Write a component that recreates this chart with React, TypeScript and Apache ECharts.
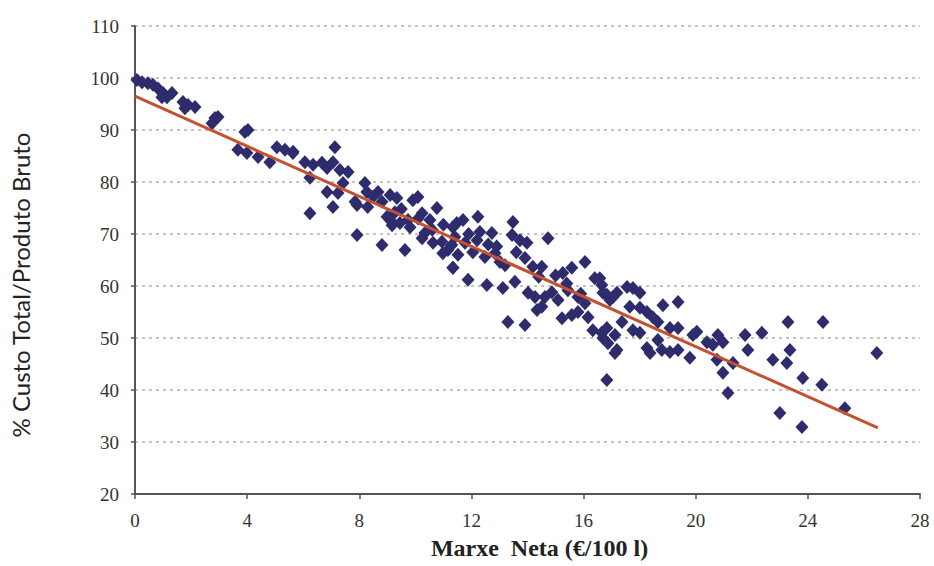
import React, { useEffect, useRef } from "react";
import * as echarts from "echarts";

const xTicks = [0, 4, 8, 12, 16, 20, 24, 28];
const yTicks = [20, 30, 40, 50, 60, 70, 80, 90, 100, 110];

// Marxe Neta (€/100 l)
const marxeNeta = [
  0.07, 0.25, 0.46, 0.64, 0.82, 1.0, 1.14, 1.32, 0.96, 1.71, 1.89, 2.14, 1.78,
  2.85, 2.96, 2.75, 3.92, 4.03, 3.67, 3.99, 4.39, 4.81, 5.06, 5.35, 5.63,
  5.64, 7.13, 6.06, 6.35, 6.67, 6.85, 7.06, 7.31, 7.6, 6.24, 6.85, 7.24, 7.06, 6.24,
  7.42, 7.85, 8.2, 8.27, 7.92, 8.3, 8.67, 8.81, 9.1, 9.34, 8.99, 9.17, 9.45, 7.92,
  8.81, 9.63, 9.91, 10.09, 10.24, 9.74, 9.81, 10.77, 10.52, 10.34, 10.63, 10.95,
  11.34, 11.41, 11.34, 11.16, 10.98, 10.24, 9.27, 9.1,
  11.7, 11.48, 12.23, 12.3, 12.73, 13.48, 13.45, 13.73, 13.98, 14.73,
  11.3, 11.77, 12.05, 11.52, 12.2, 12.48, 12.84, 13.02, 13.2, 11.34,
  11.88, 12.55, 13.12, 13.55, 13.91, 14.19, 14.51,
  14.02, 14.27, 14.62, 14.87, 15.09, 14.51, 14.34,
  15.26, 15.58, 16.05, 16.4, 16.65, 15.44, 15.8, 16.05, 15.8, 15.58, 16.16,
  13.3, 13.91, 15.23, 16.33, 16.65, 16.87, 17.12, 16.69, 16.94,
  16.58, 17.55, 17.76, 18.01, 16.83, 17.05, 17.19, 18.83, 19.37,
  17.65, 18.01, 18.26, 18.47, 18.65, 17.37, 17.76, 18.01, 16.83, 16.69, 17.12,
  17.19, 19.08, 19.37, 20.04, 19.9, 18.65, 18.79, 19.08, 19.37, 18.26, 18.37,
  19.79, 20.4, 20.61, 20.79, 20.97, 20.76, 20.97, 21.33, 21.15, 16.83,
  21.76, 22.36, 21.86, 23.29, 24.54, 23.36, 22.75, 23.25, 23.82, 24.5,
  26.46, 23.0, 23.79, 25.32,
  10.6, 11.0, 11.9, 12.6, 12.9, 13.6, 14.4, 15.0, 15.4, 15.9, 8.5, 9.5, 10.1,
];

// % Custo Total / Produto Bruto
const custoTotal = [
  99.6, 99.2, 99.0, 98.7, 98.0, 97.1, 96.3, 97.1, 96.3, 95.4, 94.8, 94.4, 94.2,
  92.3, 92.5, 91.3, 89.6, 90.0, 86.2, 85.6, 84.8, 83.8, 86.7, 86.2, 85.6,
  85.8, 86.7, 83.8, 83.3, 83.7, 82.7, 83.8, 82.3, 81.9, 80.8, 78.1, 77.9, 75.2, 74.0,
  79.8, 76.2, 79.8, 78.1, 75.6, 75.2, 78.1, 76.2, 77.5, 76.9, 73.3, 71.7, 72.1, 69.8,
  67.9, 66.9, 76.5, 77.1, 74.0, 72.7, 71.3, 75.0, 72.7, 70.2, 68.3, 68.5,
  71.3, 69.4, 63.5, 66.9, 66.3, 69.2, 74.2, 72.7,
  72.7, 72.1, 73.3, 70.4, 70.2, 72.3, 69.8, 68.8, 68.3, 69.2,
  67.9, 68.3, 66.5, 66.0, 68.8, 65.6, 66.3, 64.6, 64.0, 63.5,
  61.2, 60.2, 59.6, 60.8, 65.4, 63.7, 63.7,
  58.7, 57.9, 57.9, 58.8, 57.3, 56.0, 55.4,
  62.5, 63.5, 64.6, 61.5, 60.2, 59.2, 57.9, 56.7, 55.0, 54.4, 54.0,
  53.1, 52.5, 53.8, 51.5, 51.0, 49.0, 47.1, 58.7, 57.3,
  61.5, 59.8, 59.6, 58.7, 58.3, 57.9, 58.7, 56.3, 56.9,
  56.0, 55.8, 55.0, 54.0, 53.1, 53.1, 51.5, 51.0, 51.9, 50.0, 50.6,
  47.7, 51.9, 51.9, 51.2, 50.6, 49.6, 47.7, 47.3, 47.7, 48.1, 47.1,
  46.2, 49.2, 48.7, 50.6, 49.2, 45.8, 43.3, 45.2, 39.4, 41.9,
  50.6, 51.0, 47.7, 53.1, 53.1, 47.7, 45.8, 45.2, 42.3, 41.0,
  47.1, 35.6, 32.9, 36.5,
  70.8, 71.8, 70.0, 68.0, 67.6, 66.5, 61.8, 62.0, 60.5, 58.5, 77.2, 74.8, 73.0,
];

const trendX = [0, 26.5];
const trendY = [96.5, 32.7];

const yTitle = "% Custo Total/Produto Bruto";
const xTitle = "Marxe  Neta (€/100 l)";

export default function App() {
  const ref = useRef<HTMLDivElement>(null);
  useEffect(() => {
    if (!ref.current) return;
    const chart = echarts.init(ref.current, null, { renderer: "svg" });
    const points = marxeNeta.map((x, i) => [x, custoTotal[i]]);
    const trend = trendX.map((x, i) => [x, trendY[i]]);
    chart.setOption({
      animation: false,
      backgroundColor: "#ffffff",
      grid: {
        left: 135,
        right: 14,
        top: 26,
        bottom: 72,
        containLabel: false,
        outerBoundsMode: "none",
      },
      xAxis: {
        type: "value",
        min: xTicks[0],
        max: xTicks[xTicks.length - 1],
        interval: 4,
        name: xTitle,
        nameLocation: "middle",
        nameGap: 42,
        nameTextStyle: {
          fontFamily: "Liberation Serif, serif",
          fontWeight: "bold",
          fontSize: 24,
          color: "#222",
          padding: [0, 0, 0, 24],
        },
        axisLine: { show: true, lineStyle: { color: "#555", width: 2 } },
        axisTick: { show: true, length: 5, lineStyle: { color: "#555", width: 1.5 } },
        axisLabel: {
          fontFamily: "Liberation Serif, serif",
          fontSize: 19,
          color: "#333",
          margin: 17,
        },
        splitLine: { show: false },
      },
      yAxis: {
        type: "value",
        min: yTicks[0],
        max: yTicks[yTicks.length - 1],
        interval: 10,
        name: yTitle,
        nameLocation: "middle",
        nameRotate: 90,
        nameGap: 103,
        nameTextStyle: {
          fontFamily: "Lato, sans-serif",
          fontSize: 24,
          color: "#222",
          padding: [0, 50, 0, 0],
        },
        axisLine: { show: true, lineStyle: { color: "#555", width: 2 } },
        axisTick: { show: true, length: 4, lineStyle: { color: "#555", width: 1.5 } },
        axisLabel: {
          fontFamily: "Liberation Serif, serif",
          fontSize: 19,
          color: "#333",
          margin: 16,
        },
        splitLine: {
          show: true,
          lineStyle: { color: "#b0b0b0", type: [3, 4], width: 1.5 },
        },
      },
      series: [
        {
          type: "scatter",
          data: points,
          symbol: "diamond",
          symbolSize: [13, 14],
          itemStyle: { color: "#2e2c6c", opacity: 1 },
          z: 2,
        },
        {
          type: "line",
          data: trend,
          symbol: "none",
          lineStyle: { color: "#c4512f", width: 3 },
          z: 3,
        },
      ],
    });
    return () => chart.dispose();
  }, []);
  return (
    <div
      ref={ref}
      style={{ position: "absolute", left: 0, top: 0, width: 934, height: 566 }}
    />
  );
}
